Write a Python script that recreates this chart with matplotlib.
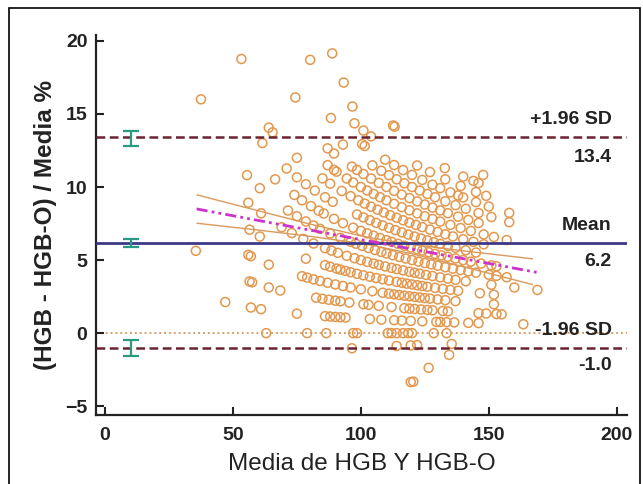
import numpy as np
import matplotlib
matplotlib.use("Agg")
import matplotlib.pyplot as plt
from matplotlib.patches import Rectangle

plt.rcParams['font.family'] = ['Liberation Sans', 'DejaVu Sans']

# media de HGB y HGB-O para cada diferencia (HGB - HGB-O, g/L)
media_dm4 = [119.5, 120.5]
media_dm3 = [126.5]
media_dm2 = [134.5]
media_dm1 = [96.5, 114, 119.5, 122, 135.5]
media_d0 = [63, 79, 86.5, 97, 98.5, 110.5, 112, 114, 116.5, 118.5, 120, 128.5, 133.5]
media_d1 = [47, 57, 61, 75, 86, 88, 90, 92, 94, 103.5, 108, 113, 116, 119.5, 124, 129.5,
            131, 133.5, 136.5, 142, 146, 163.5]
media_d2 = [35.5, 56.5, 57.5, 64, 68.5, 82.5, 85, 87.5, 90, 92, 95.5, 101, 103, 107, 112, 117,
            119, 121, 123.5, 126, 128, 132, 134, 146, 149, 153, 155]
media_d3 = [56, 57, 64, 77, 79, 81.5, 84, 87, 90, 93, 96, 100, 104.5, 108.5, 111, 113, 115,
            117, 119, 121, 123, 125, 127, 130, 133, 137, 152]
media_d4 = [56.5, 60.5, 78.5, 86, 88, 90.5, 92, 94, 96, 98.5, 101, 103.5, 106, 108.5, 111, 114,
            116, 118, 120, 122, 124, 126, 129, 132, 135, 138, 146.5, 152]
media_d5 = [56, 61, 69, 73, 77.5, 81.5, 86, 88.5, 91, 94.5, 97.5, 100, 102.5, 105, 107, 109.5,
            112, 114, 116.5, 119, 121, 123, 125.5, 128, 131, 134, 137, 141, 151, 160, 169]
media_d6 = [37.5, 55.5, 60.5, 71.5, 75, 78.5, 81.5, 84, 88, 92, 96, 98, 100.5, 103, 105.5, 108,
            110, 112.5, 115, 117.5, 120, 122.5, 125, 127.5, 130, 133, 136, 139, 142, 145, 150,
            153, 157]
media_d7 = [66.5, 74, 77, 80.5, 83.5, 85.5, 89.5, 93, 97, 100, 102.5, 105, 107.5, 110, 112,
            114.5, 117, 119.5, 122, 124, 126.5, 129, 131.5, 134, 137, 140, 143, 147, 151, 153]
media_d8 = [61.5, 71, 75, 78.5, 82, 86, 89, 98.5, 101, 103.5, 106, 108.5, 111, 113.5, 116,
            118.5, 121, 123.5, 126, 128.5, 131, 134, 137, 141, 145]
media_d9 = [64, 65.5, 75, 85, 88, 92.5, 96, 99, 101.5, 104, 106.5, 109, 111.5, 114, 116.5, 119,
            121.5, 124, 127, 130, 133, 136, 140, 144, 148]
media_d10 = [53.3, 87, 89.5, 90.5, 94.5, 97, 100, 102.5, 105, 107.5, 110, 113, 116, 119, 122,
             125, 128, 131, 135, 139, 143, 148, 152, 157]
media_d11 = [87, 89.5, 96.5, 98.5, 101, 104, 107, 110, 113, 116, 119, 122, 125, 128, 131, 134,
             138, 142, 146]
media_d12 = [74.4, 93, 104.5, 108, 111, 114, 117, 120, 123, 126, 129, 133, 137, 141, 146, 151, 158]
media_d13 = [88.3, 100.5, 101.5, 109.5, 113, 116.5, 120, 124, 128, 131, 135, 138, 140, 145, 150, 158]
media_d14 = [97.5, 101, 104, 122, 127, 133, 139, 145, 149]
media_d15 = [80.2, 96.7, 132.8, 140, 144, 146]
media_d16 = [93.3, 112.6, 113.2, 147.8]
media_d17 = [88.8]

grupos = [(-4, media_dm4), (-3, media_dm3), (-2, media_dm2), (-1, media_dm1),
          (0, media_d0), (1, media_d1), (2, media_d2), (3, media_d3), (4, media_d4),
          (5, media_d5), (6, media_d6), (7, media_d7), (8, media_d8), (9, media_d9),
          (10, media_d10), (11, media_d11), (12, media_d12), (13, media_d13),
          (14, media_d14), (15, media_d15), (16, media_d16), (17, media_d17)]

media = np.concatenate([np.array(m, float) for d, m in grupos])
dif = np.concatenate([np.full(len(m), d, float) for d, m in grupos])
dif_pct = dif / media * 100

# limites de acuerdo
media_dif = 6.2
sd_sup = 13.4
sd_inf = -1.0
ic_centro = [13.4, 6.2, -1.0]
ic_bajo = [12.8, 5.9, -1.55]
ic_alto = [13.85, 6.45, -0.5]

# regresion y bandas de confianza
reg_x = [35.8, 169]
reg_y = [8.5, 4.15]
banda_x = [36, 60, 80, 100, 105, 120, 140, 167]
banda_sup = [9.46, 8.37, 7.47, 6.66, 6.49, 6.07, 5.63, 5.09]
banda_inf = [7.52, 7.05, 6.63, 6.14, 5.99, 5.43, 4.55, 3.33]

fig = plt.figure(figsize=(6.43, 4.84), dpi=100)
ax = fig.add_axes([0.149, 0.1426, 0.826, 0.785])

ax.scatter(media, dif_pct, s=42, facecolors='none', edgecolors='#e3984f',
           linewidths=1.1, zorder=2)

ax.plot(banda_x, banda_sup, color='#d99a5b', lw=1.0, zorder=3)
ax.plot(banda_x, banda_inf, color='#d99a5b', lw=1.0, zorder=3)
ax.plot(reg_x, reg_y, color='#cc33cc', lw=2, ls=(0, (4, 1.5, 1, 1.5, 1, 1.5)), zorder=4)

ax.axhline(sd_sup, color='#6a2330', lw=1.8, ls=(0, (3.5, 1.8)), zorder=3)
ax.axhline(sd_inf, color='#6a2330', lw=1.8, ls=(0, (3.5, 1.8)), zorder=3)
ax.axhline(media_dif, color='#3c3a88', lw=2.0, zorder=3)
ax.axhline(0, color='#d9a066', lw=1.4, ls=(0, (1, 1.5)), zorder=1)

yerr = [np.subtract(ic_centro, ic_bajo), np.subtract(ic_alto, ic_centro)]
ax.errorbar([10, 10, 10], ic_centro, yerr=yerr, fmt='none', ecolor='#2b9a82',
            elinewidth=1.6, capsize=6, capthick=1.6, zorder=5)

etq = dict(ha='right', va='center', fontsize=14, fontweight='bold', color='#222222')
ax.text(198, 14.6, '+1.96 SD', **etq)
ax.text(198, 12.0, '13.4', **etq)
ax.text(198, 7.4, 'Mean', **etq)
ax.text(198, 4.9, '6.2', **etq)
ax.text(198, 0.15, '-1.96 SD', **etq)
ax.text(198, -2.2, '-1.0', **etq)

ax.set_xlim(-3.6, 204)
ax.set_ylim(-5.6, 20.4)
ax.set_xticks([0, 50, 100, 150, 200])
ax.set_yticks([-5, 0, 5, 10, 15, 20])
ax.tick_params(direction='in', length=6, width=1.5, labelsize=14, pad=6, colors='#222222')
ax.tick_params(axis='x', pad=9)
for lab in ax.get_xticklabels() + ax.get_yticklabels():
    lab.set_fontweight('bold')
for s in ['top', 'right']:
    ax.spines[s].set_visible(False)
for s in ['left', 'bottom']:
    ax.spines[s].set_linewidth(1.6)
    ax.spines[s].set_color('#222222')

ax.set_xlabel('Media de HGB Y HGB-O', fontsize=17.5, color='#222222', labelpad=6)
ax.set_ylabel('(HGB - HGB-O) / Media %', fontsize=17.5, fontweight='bold',
              color='#222222', labelpad=6)

fig.patches.append(Rectangle((0.014, -0.01), 0.982, 0.9935, transform=fig.transFigure,
                             fill=False, lw=1.2, edgecolor='black'))

fig.savefig('out.png', dpi=100)
